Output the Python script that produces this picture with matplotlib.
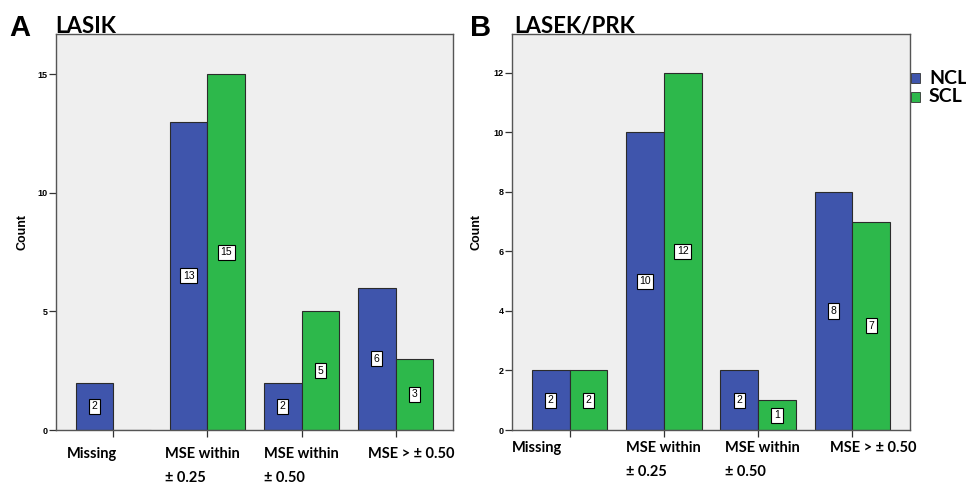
import matplotlib
matplotlib.use("Agg")
import matplotlib.pyplot as plt
import matplotlib.transforms as mtransforms
import numpy as np

categories = ["Missing", "MSE within\n± 0.25", "MSE within\n± 0.50", "MSE > ± 0.50"]
lasik_ncl = [2, 13, 2, 6]
lasik_scl = [0, 15, 5, 3]
lasek_ncl = [2, 10, 2, 8]
lasek_scl = [2, 12, 1, 7]
lasik_yticks = [0, 5, 10, 15]
lasek_yticks = [0, 2, 4, 6, 8, 10, 12]
series_names = ["NCL", "SCL"]

BLUE = "#3f55ac"
GREEN = "#2db84b"
BG = "#efefef"
W, H = 966, 484
fig = plt.figure(figsize=(W / 100, H / 100), dpi=100)

def ax_rect(l, t, r, b):
    return [l / W, 1 - b / H, (r - l) / W, (b - t) / H]

def panel(rect, ncl, scl, yticks, ymax, letter, title, lab_off, lab_y, letter_x, title_x, count_x):
    ax = fig.add_axes(rect)
    ax.set_facecolor(BG)
    x = np.arange(len(categories))
    w = 0.40
    ax.bar(x - w / 2, ncl, w, color=BLUE, edgecolor="#2b2b2b", linewidth=0.8, zorder=2)
    ax.bar(x + w / 2, scl, w, color=GREEN, edgecolor="#2b2b2b", linewidth=0.8, zorder=2)
    for xs, vals in ((x - w / 2, ncl), (x + w / 2, scl)):
        for xi, v in zip(xs, vals):
            if v > 0:
                ax.text(xi, v / 2, str(v), ha="center", va="center", fontsize=7.5,
                        family="Liberation Sans", zorder=3,
                        bbox=dict(boxstyle="square,pad=0.25", fc="white", ec="black", lw=0.8))
    ax.set_xlim(-0.61, 3.61)
    ax.set_ylim(0, ymax)
    ax.set_yticks(yticks)
    ax.set_yticklabels([str(t) for t in yticks], fontsize=6.5, family="Liberation Sans", fontweight="bold")
    ax.set_xticks(x)
    ax.set_xticklabels([])
    ax.tick_params(axis="both", direction="out", length=5, width=0.9, color="#333333")
    ax.tick_params(axis="y", pad=1)
    for s in ax.spines.values():
        s.set_color("#555555")
        s.set_linewidth(1.0)
    ax.set_ylabel("Count", fontsize=9, fontweight="bold", family="Liberation Sans")
    ax.yaxis.set_label_coords(count_x, 0.5)
    trans = mtransforms.blended_transform_factory(ax.transData, fig.transFigure)
    for xi, lab, off in zip(x, categories, lab_off):
        ax.text(xi + off, 1 - lab_y / H, lab, transform=trans, ha="center", va="top",
                multialignment="left", fontsize=10.5, fontweight="bold", family="Lato",
                linespacing=1.9)
    fig.text(letter_x / W, 1 - 36 / H, letter, fontsize=21, fontweight="bold",
             family="Liberation Sans", va="baseline")
    fig.text(title_x / W, 1 - 33 / H, title, fontsize=16, fontweight="bold",
             family="Lato", va="baseline")
    return ax

panel(ax_rect(56, 34, 453, 430), lasik_ncl, lasik_scl, lasik_yticks, 16.7, "A", "LASIK",
      [-0.23, -0.05, 0.0, 0.17], 447, 9, 55, (28 - 56) / 397)
panel(ax_rect(512, 34, 910, 430), lasek_ncl, lasek_scl, lasek_yticks, 13.3, "B", "LASEK/PRK",
      [-0.34, 0.0, 0.04, 0.22], 441, 470, 514, (483 - 512) / 398)

# legend
for i, (name, col) in enumerate(zip(series_names, (BLUE, GREEN))):
    yy = 78 + i * 19
    fig.patches.append(plt.Rectangle((911 / W, 1 - (yy + 5) / H), 9 / W, 10 / H,
                                     transform=fig.transFigure, fc=col, ec="#333333", lw=0.6))
    fig.text(929 / W, 1 - yy / H, name, fontsize=14, fontweight="bold", family="Lato", va="center")

fig.savefig("out.png", dpi=100)
